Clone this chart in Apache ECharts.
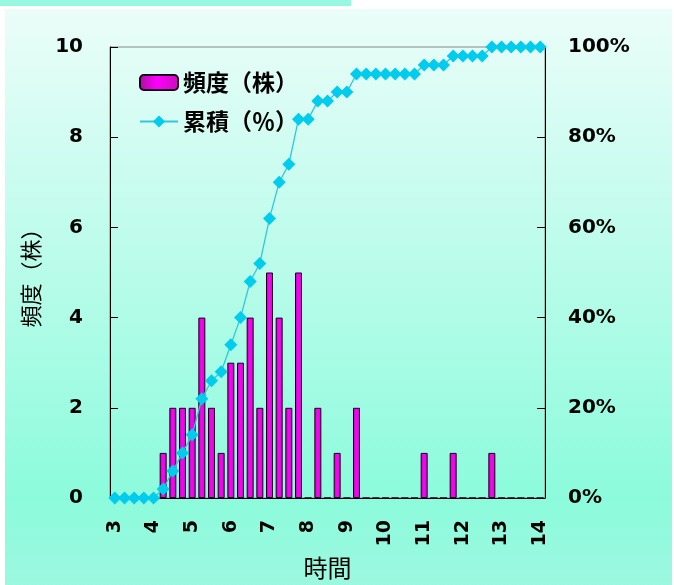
<!DOCTYPE html>
<html>
<head>
<meta charset="utf-8">
<script src="https://cdn.jsdelivr.net/npm/echarts@6/dist/echarts.min.js"></script>
<style>
html,body{margin:0;padding:0;background:#fff;}
#main{width:674px;height:585px;}
</style>
</head>
<body>
<div id="main"></div>
<script>
// Categories: time from 3 to 14 in steps of 0.25
const categories = ['3','3.25','3.5','3.75','4','4.25','4.5','4.75','5','5.25','5.5','5.75','6','6.25','6.5','6.75','7','7.25','7.5','7.75','8','8.25','8.5','8.75','9','9.25','9.5','9.75','10','10.25','10.5','10.75','11','11.25','11.5','11.75','12','12.25','12.5','12.75','13','13.25','13.5','13.75','14'];
// Frequency (count)
const frequency = [0,0,0,0,0,1,2,2,2,4,2,1,3,3,4,2,5,4,2,5,0,2,0,1,0,2,0,0,0,0,0,0,1,0,0,1,0,0,0,1,0,0,0,0,0];
// Cumulative (%)
const cumulative = [0,0,0,0,0,2,6,10,14,22,26,28,34,40,48,52,62,70,74,84,84,88,88,90,90,94,94,94,94,94,94,94,96,96,96,98,98,98,98,100,100,100,100,100,100];
// Tick labels
const leftTicks = [0,2,4,6,8,10];
const rightTicks = [0,20,40,60,80,100];

const chart = echarts.init(document.getElementById('main'));
const numFont = 'DejaVu Sans';
const cjkFont = 'Noto Sans CJK JP';
chart.setOption({
  animation: false,
  graphic: [
    {type:'rect', z:-10, shape:{x:0,y:0,width:351,height:6}, style:{fill:'#96f8de'}},
    {type:'rect', z:-10, shape:{x:5,y:9,width:667,height:576}, style:{fill:new echarts.graphic.LinearGradient(0,0,0,1,[
      {offset:0,color:'#ebfdf9'},{offset:0.85,color:'#8cfbdc'},{offset:1,color:'#9cf8e0'}])}}
  ],
  legend: {
    left: 134, top: 66, orient: 'vertical',
    itemWidth: 38, itemHeight: 15, itemGap: 16,
    textStyle: {fontFamily: cjkFont, fontWeight: 'bold', fontSize: 23, color: '#000'},
    data: ['頻度（株）','累積（％）']
  },
  grid: {left:110, right:129, top:47, bottom:86, show:true, borderColor:'#888', borderWidth:1, backgroundColor:'transparent'},
  xAxis: {
    type: 'category', data: categories, boundaryGap: true,
    name: '時間', nameLocation: 'middle', nameGap: 58,
    nameTextStyle: {fontFamily: cjkFont, fontSize: 24, color: '#000'},
    axisLine: {lineStyle:{color:'#000', width:1}},
    axisTick: {inside:true, length:8, interval:0, lineStyle:{color:'#000'}},
    axisLabel: {
      interval: function(i){ return i % 4 === 0; },
      rotate: 90, margin: 22, fontFamily: numFont, fontWeight: 'bold', fontSize: 19, color: '#000'
    },
    splitLine: {show:false}
  },
  yAxis: [
    {
      type: 'value', min: 0, max: 10, interval: 2,
      name: '頻度（株）', nameLocation: 'middle', nameRotate: 90, nameGap: 68,
      nameTextStyle: {fontFamily: cjkFont, fontSize: 22, color: '#000'},
      axisLine: {show:true, lineStyle:{color:'#000'}},
      axisTick: {show:true, inside:true, length:8, lineStyle:{color:'#000'}},
      axisLabel: {margin: 27, fontFamily: numFont, fontWeight: 'bold', fontSize: 20, color: '#000',
        formatter: function(v){ return leftTicks.indexOf(v) >= 0 ? String(v) : ''; }},
      splitLine: {show:false}
    },
    {
      type: 'value', min: 0, max: 100, interval: 20,
      axisLine: {show:true, lineStyle:{color:'#000'}},
      axisTick: {show:true, inside:true, length:8, lineStyle:{color:'#000'}},
      axisLabel: {margin: 23, fontFamily: numFont, fontWeight: 'bold', fontSize: 20, color: '#000',
        formatter: function(v){ return rightTicks.indexOf(v) >= 0 ? v + '%' : ''; }},
      splitLine: {show:false}
    }
  ],
  series: [
    {
      name: '頻度（株）', type: 'bar', yAxisIndex: 0, data: frequency, barWidth: 7, z: 2,
      itemStyle: {
        color: new echarts.graphic.LinearGradient(0,0,1,0,[
          {offset:0,color:'#a8109a'},{offset:0.45,color:'#ff00ff'},{offset:1,color:'#c810b8'}]),
        borderColor: '#1a001a', borderWidth: 1
      }
    },
    {
      name: '累積（％）', type: 'line', yAxisIndex: 1, data: cumulative, z: 5,
      symbol: 'diamond', symbolSize: 13, showAllSymbol: true,
      lineStyle: {color:'#30c8dc', width:1.3},
      itemStyle: {color:'#00ccee'}
    }
  ]
});
</script>
</body>
</html>
